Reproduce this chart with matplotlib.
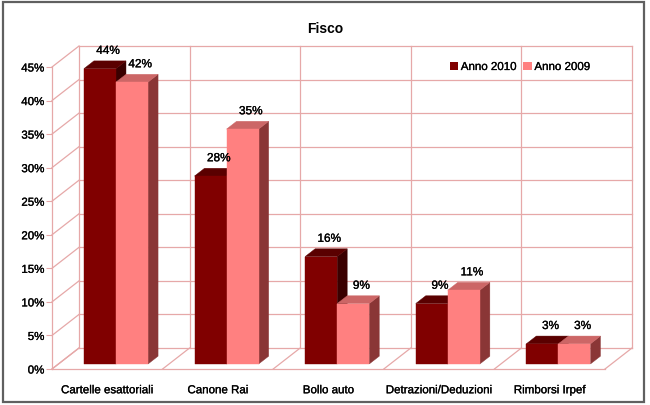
import matplotlib.pyplot as plt
import matplotlib.patheffects as pe
from matplotlib.patches import Polygon, Rectangle
from matplotlib.lines import Line2D

plt.rcParams['font.family'] = ['Liberation Sans', 'DejaVu Sans']

# data
categories = ['Cartelle esattoriali', 'Canone Rai', 'Bollo auto',
              'Detrazioni/Deduzioni', 'Rimborsi Irpef']
anno_2010 = [44, 28, 16, 9, 3]
anno_2009 = [42, 35, 9, 11, 3]
series_names = ['Anno 2010', 'Anno 2009']
yticks = [0, 5, 10, 15, 20, 25, 30, 35, 40, 45]

# colours: front, top, side
col_2010 = ('#800000', '#5a0000', '#3a0000')
col_2009 = ('#ff8080', '#cc6666', '#8a3636')
grid_col = '#e6a8a8'

# slightly heavier text, like the original rendering
heavy = [pe.withStroke(linewidth=0.2, foreground='black')]

fig = plt.figure(figsize=(6.5, 4.06), dpi=100)
fig.patch.set_facecolor('white')
fig.add_artist(Rectangle((0.005, 0.008), 0.986, 0.985, transform=fig.transFigure,
                         fill=False, edgecolor='#606060', linewidth=1.6))

ax = fig.add_axes([52 / 650, 36 / 406, 553 / 650, 302 / 406])
n = len(categories)
ax.set_xlim(0, n)
ax.set_ylim(0, 45)
for s in ax.spines.values():
    s.set_visible(False)

# depth of the 3d box, in data units
DX = 27 / 110.6
DY = 21 / 6.711
ymax = yticks[-1]

def line(xs, ys, **kw):
    ax.add_line(Line2D(xs, ys, color=grid_col, lw=0.9, clip_on=False, zorder=1, **kw))

# back wall, left wall and floor grid
for t in yticks:
    line([DX, n + DX], [t + DY, t + DY])
    line([0, DX], [t, t + DY])
for k in range(n + 1):
    line([k + DX, k + DX], [DY, ymax + DY])
    line([k, k + DX], [0, DY])
line([0, 0], [0, ymax])
line([0, n], [0, 0])

# bars
bw = 0.29
f0, fd = 0.24, 0.37

def bar3d(x0, h, cols):
    ox, oy = f0 * DX, f0 * DY
    ex, ey = fd * DX, fd * DY
    x0 += ox
    x1 = x0 + bw
    y0, y1 = oy, oy + h
    front = [(x0, y0), (x1, y0), (x1, y1), (x0, y1)]
    top = [(x0, y1), (x1, y1), (x1 + ex, y1 + ey), (x0 + ex, y1 + ey)]
    side = [(x1, y0), (x1 + ex, y0 + ey), (x1 + ex, y1 + ey), (x1, y1)]
    for pts, c in ((side, cols[2]), (top, cols[1]), (front, cols[0])):
        ax.add_patch(Polygon(pts, closed=True, facecolor=c, edgecolor=c,
                             lw=0.3, clip_on=False, zorder=3))
    ax.text(x0 + bw / 2 + 0.3 * DX, y1 + ey + 0.6, f'{h}%', ha='center',
            va='bottom', fontsize=8.5, color='black', zorder=5, path_effects=heavy)

for i in range(n):
    c = i + 0.52
    bar3d(c - bw, anno_2010[i], col_2010)
    bar3d(c, anno_2009[i], col_2009)

ax.set_yticks(yticks)
ax.set_yticklabels([f'{t}%' for t in yticks], fontsize=8.3, path_effects=heavy)
ax.set_xticks([i + 0.5 for i in range(n)])
ax.set_xticklabels(categories, fontsize=8.3, path_effects=heavy)
ax.tick_params(axis='y', direction='out', length=4, color=grid_col, pad=1.5)
ax.tick_params(axis='x', length=0, pad=11)

fig.text(0.5, 1 - 29 / 406, 'Fisco', ha='center', va='center',
         fontsize=10, fontweight='bold')

handles = [Rectangle((0, 0), 1, 1, facecolor=col_2010[0]),
           Rectangle((0, 0), 1, 1, facecolor=col_2009[0])]
leg = fig.legend(handles, series_names, loc='center', ncol=2,
                 bbox_to_anchor=(520 / 650, 1 - 68 / 406), frameon=False,
                 fontsize=8.3, handlelength=0.7, handleheight=0.7,
                 handletextpad=0.25, columnspacing=0.6)
for t in leg.get_texts():
    t.set_path_effects(heavy)

fig.savefig('out.png', dpi=100)
